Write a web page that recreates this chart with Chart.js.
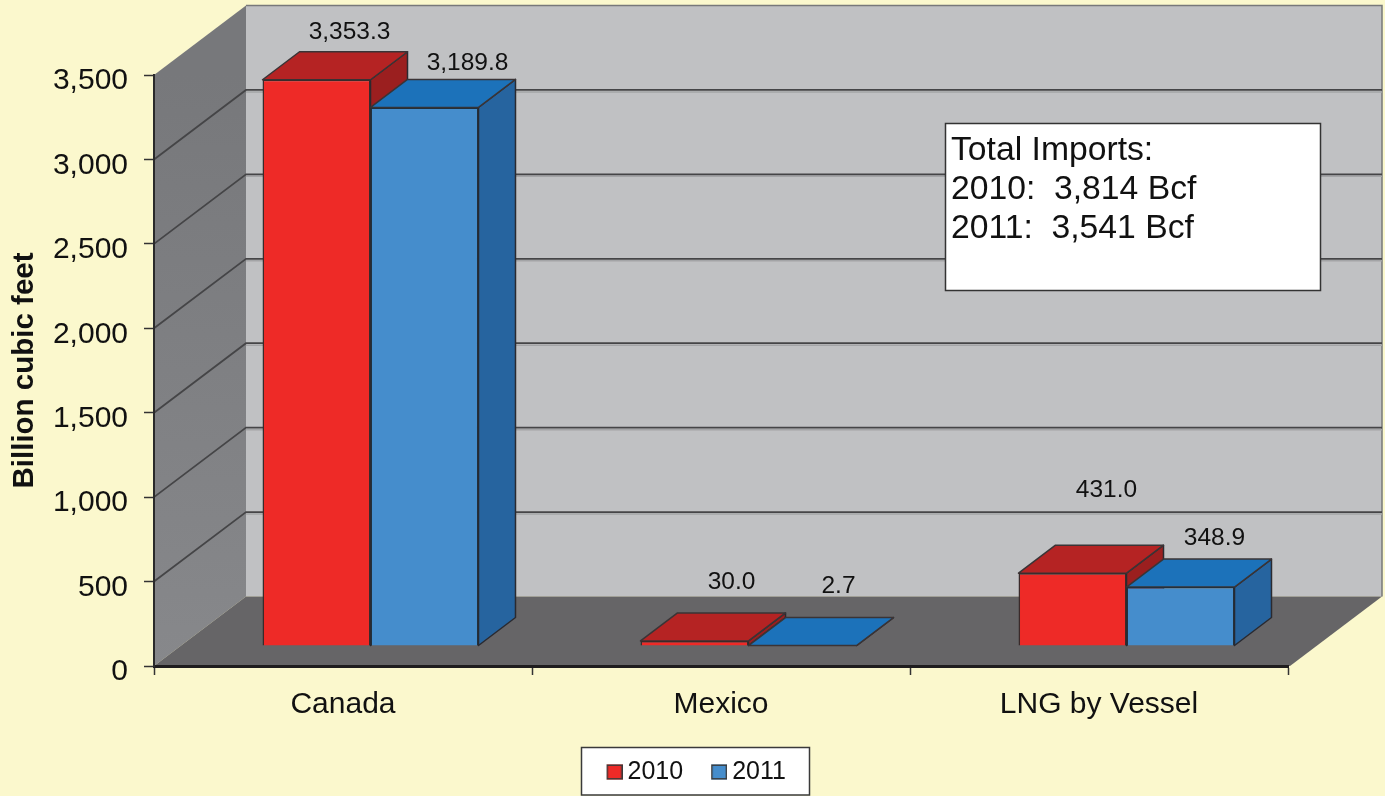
<!DOCTYPE html>
<html>
<head>
<meta charset="utf-8">
<style>html,body{margin:0;padding:0;background:#fbf8cd;}canvas{display:block;}</style>
<script src="https://cdn.jsdelivr.net/npm/chart.js@4"></script>
</head>
<body>
<canvas id="c" width="1385" height="796"></canvas>
<script>
const categories = ['Canada', 'Mexico', 'LNG by Vessel'];
const seriesNames = ['2010', '2011'];
const values2010 = [3353.3, 30.0, 431.0];
const values2011 = [3189.8, 2.7, 348.9];
const yTicks = [0, 500, 1000, 1500, 2000, 2500, 3000, 3500];
const noteLines = ['Total Imports:', '2010:  3,814 Bcf', '2011:  3,541 Bcf'];

const FONT = '"Liberation Sans", Arial, sans-serif';
const WALL = {dx: 92, dy: -69.5, right: 1382};
const BAR_SHIFT = {dx: 27.5, dy: -20};
const BAR_DEPTH = {dx: 37, dy: -28};
const FACES = [{top: '#b52323', side: '#9b1f1f', front: '#ee2a27'},
               {top: '#1c72ba', side: '#26649f', front: '#458dcc'}];
const LABEL_OFFSETS = [[[33, -48], [37, -59], [34, -83]],
                       [[43, -44], [36, -59], [34, -49]]];

function swatch(color) {
  const k = document.createElement('canvas');
  k.width = 23; k.height = 16;
  const g = k.getContext('2d');
  g.fillStyle = color; g.fillRect(7, 0.5, 16, 15);
  g.strokeStyle = '#3a3a3a'; g.lineWidth = 1.4; g.strokeRect(7.7, 1.2, 14.6, 13.6);
  return k;
}

function poly(ctx, pts, fill, stroke, lw) {
  ctx.beginPath();
  pts.forEach((p, i) => i ? ctx.lineTo(p[0], p[1]) : ctx.moveTo(p[0], p[1]));
  ctx.closePath();
  if (fill) { ctx.fillStyle = fill; ctx.fill(); }
  if (stroke) { ctx.strokeStyle = stroke; ctx.lineWidth = lw || 1; ctx.lineJoin = 'round'; ctx.stroke(); }
}

const stage3d = {
  id: 'stage3d',
  afterLayout(chart) {
    const lg = chart.legend;
    lg.left = 8; lg.right = 1385;
    lg.top = 772 - 12.5 - 28.5; lg.bottom = 796;
  },
  beforeDraw(chart) {
    const {ctx, chartArea: a, scales: {y}} = chart;
    ctx.save();
    ctx.fillStyle = '#fbf8cd';
    ctx.fillRect(0, 0, chart.width, chart.height);
    const y0 = y.getPixelForValue(0), yT = y.getPixelForValue(3500);
    const bx = a.left + WALL.dx;
    // back wall
    ctx.fillStyle = '#c0c1c3';
    ctx.fillRect(bx, yT + WALL.dy, WALL.right - bx, y0 - yT);
    ctx.strokeStyle = '#77787a'; ctx.lineWidth = 1.5;
    ctx.beginPath();
    ctx.moveTo(bx, yT + WALL.dy); ctx.lineTo(WALL.right, yT + WALL.dy);
    ctx.lineTo(WALL.right, y0 + WALL.dy); ctx.stroke();
    // side wall
    const g = ctx.createLinearGradient(0, yT, 0, y0);
    g.addColorStop(0, '#77787b'); g.addColorStop(1, '#87888b');
    poly(ctx, [[a.left, yT], [bx, yT + WALL.dy], [bx, y0 + WALL.dy], [a.left, y0]], g);
    // floor
    poly(ctx, [[a.left, y0], [bx, y0 + WALL.dy], [WALL.right, y0 + WALL.dy], [a.right + 2, y0]], '#666567');
    // grid lines on the walls
    yTicks.forEach(v => {
      if (v === 0 || v === 3500) return;
      const p = y.getPixelForValue(v);
      ctx.strokeStyle = '#a3a4a6'; ctx.lineWidth = 1.5;
      ctx.beginPath(); ctx.moveTo(bx, p + WALL.dy + 2); ctx.lineTo(WALL.right, p + WALL.dy + 2); ctx.stroke();
      ctx.strokeStyle = '#454547'; ctx.lineWidth = 1.8;
      ctx.beginPath(); ctx.moveTo(a.left, p); ctx.lineTo(bx, p + WALL.dy); ctx.lineTo(WALL.right, p + WALL.dy); ctx.stroke();
    });
    // legend frame
    ctx.fillStyle = '#fff'; ctx.strokeStyle = '#3a3a3a'; ctx.lineWidth = 1.5;
    ctx.fillRect(581.5, 747.5, 228, 47.5); ctx.strokeRect(581.5, 747.5, 228, 47.5);
    ctx.restore();
  },
  beforeDatasetsDraw(chart) {
    const {ctx} = chart;
    ctx.save();
    ctx.translate(BAR_SHIFT.dx, BAR_SHIFT.dy);
    const d = BAR_DEPTH;
    [0, 1].forEach(i => {
      chart.getDatasetMeta(i).data.forEach(el => {
        const {x, y, base, width} = el.getProps(['x', 'y', 'base', 'width'], true);
        const l = x - width / 2, r = x + width / 2;
        poly(ctx, [[r, y], [r + d.dx, y + d.dy], [r + d.dx, base + d.dy], [r, base]], FACES[i].side, '#2a2a30', 1.5);
        poly(ctx, [[l, y], [l + d.dx, y + d.dy], [r + d.dx, y + d.dy], [r, y]], FACES[i].top, '#3a3436', 1.5);
      });
    });
    ctx.restore();
  },
  beforeDatasetDraw(chart) {
    chart.ctx.save();
    chart.ctx.translate(BAR_SHIFT.dx, BAR_SHIFT.dy);
  },
  afterDatasetDraw(chart) {
    chart.ctx.restore();
  },
  afterDatasetsDraw(chart) {
    const {ctx} = chart;
    ctx.save();
    ctx.font = '24.5px ' + FONT;
    ctx.fillStyle = '#111';
    ctx.textAlign = 'center';
    ctx.textBaseline = 'middle';
    [0, 1].forEach(i => {
      const vals = chart.data.datasets[i].data;
      chart.getDatasetMeta(i).data.forEach((el, j) => {
        const txt = vals[j].toLocaleString('en-US', {minimumFractionDigits: 1, maximumFractionDigits: 1});
        const o = LABEL_OFFSETS[i][j];
        ctx.fillText(txt, el.x + BAR_SHIFT.dx + o[0], el.y + BAR_SHIFT.dy + o[1]);
      });
    });
    ctx.restore();
  },
  afterDraw(chart) {
    const {ctx} = chart;
    ctx.save();
    ctx.fillStyle = '#fff'; ctx.strokeStyle = '#333'; ctx.lineWidth = 1.5;
    ctx.fillRect(945.5, 123.5, 375, 167); ctx.strokeRect(945.5, 123.5, 375, 167);
    ctx.fillStyle = '#111';
    ctx.font = '33.7px ' + FONT;
    ctx.textAlign = 'left';
    ctx.textBaseline = 'alphabetic';
    const base = [160, 199, 238];
    noteLines.forEach((t, i) => ctx.fillText(t, 951, base[i]));
    ctx.restore();
  }
};

new Chart(document.getElementById('c'), {
  type: 'bar',
  plugins: [stage3d],
  data: {
    labels: categories,
    datasets: [
      {label: seriesNames[0], data: values2010, backgroundColor: FACES[0].front, borderColor: '#3a2a2a', borderWidth: 1.5, clip: false},
      {label: seriesNames[1], data: values2011, backgroundColor: FACES[1].front, borderColor: '#22303c', borderWidth: 1.5, clip: false}
    ]
  },
  options: {
    responsive: false,
    animation: false,
    layout: {padding: {left: 0, top: 75, right: 97, bottom: 0}},
    datasets: {bar: {categoryPercentage: 0.5714, barPercentage: 1}},
    plugins: {
      tooltip: {enabled: false},
      title: {display: false},
      legend: {
        display: true,
        position: 'bottom',
        labels: {
          font: {family: FONT, size: 25},
          color: '#111',
          usePointStyle: true,
          boxWidth: 8,
          padding: 28.5,
          generateLabels(chart) {
            const items = Chart.defaults.plugins.legend.labels.generateLabels(chart);
            items.forEach((it, i) => { it.pointStyle = swatch(FACES[i].front); });
            return items;
          }
        }
      }
    },
    scales: {
      x: {
        afterFit(s) { s.height = 130 - (s.chart.legend ? s.chart.legend.height : 0); },
        grid: {drawOnChartArea: false, drawTicks: true, tickLength: 9, tickColor: '#333', tickWidth: 1.5, offset: true},
        border: {display: true, color: '#1f1d1e', width: 3},
        ticks: {font: {family: FONT, size: 30}, color: '#111', padding: 12, maxRotation: 0, autoSkip: false}
      },
      y: {
        min: 0, max: 3500,
        afterFit(s) { s.width = 154; },
        grid: {drawOnChartArea: false, drawTicks: true, tickLength: 10, tickColor: '#333', tickWidth: 1.5},
        border: {display: true, color: '#2a2a2a', width: 2},
        afterBuildTicks(s) { s.ticks = yTicks.map(v => ({value: v})); },
        ticks: {
          font: {family: FONT, size: 30}, color: '#111', padding: 16, labelOffset: 6,
          callback: v => v.toLocaleString('en-US')
        },
        title: {display: true, text: 'Billion cubic feet', color: '#111', font: {family: FONT, size: 29.5, weight: 'bold', lineHeight: 1.2}, padding: {top: 7, bottom: 0}}
      }
    }
  }
});
</script>
</body>
</html>
